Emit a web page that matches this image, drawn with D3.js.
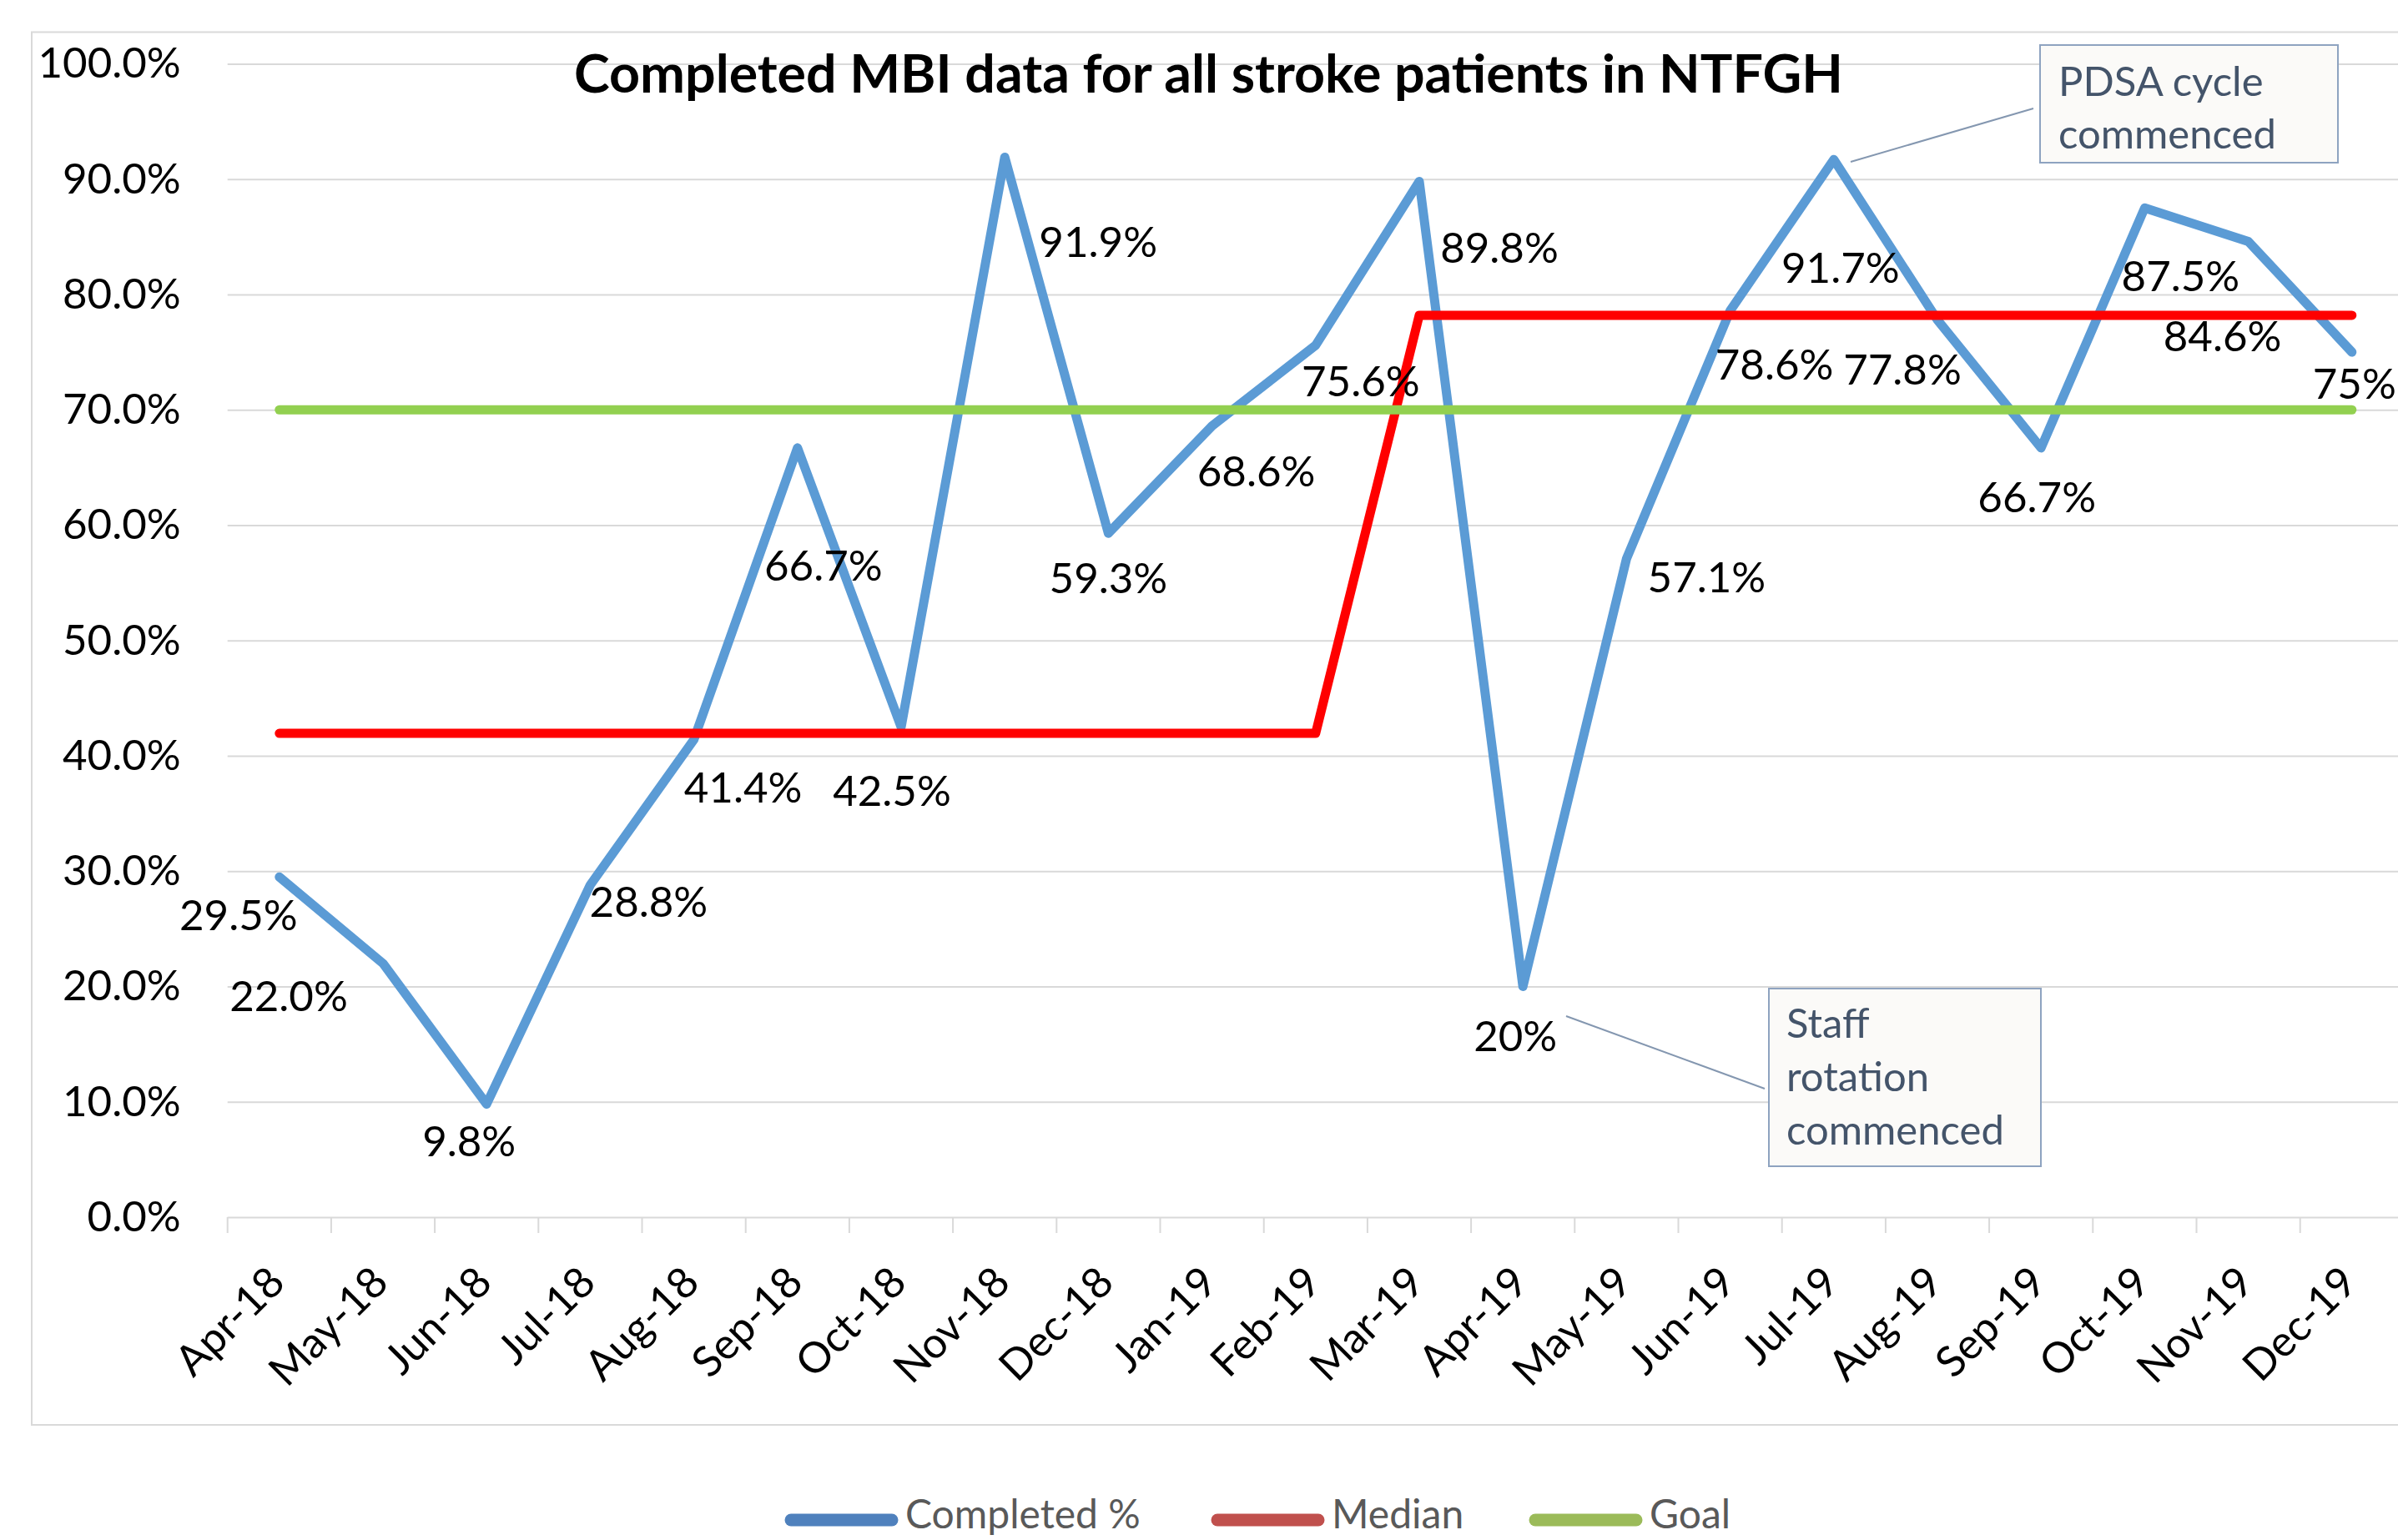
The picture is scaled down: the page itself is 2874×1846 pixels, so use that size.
<!DOCTYPE html>
<html>
<head>
<meta charset="utf-8">
<script src="https://cdn.jsdelivr.net/npm/d3@7"></script>
<style>
  html, body { margin: 0; padding: 0; background: #ffffff; }
  svg { display: block; }
</style>
</head>
<body>
<script>
// ---------------- data ----------------
const categories = ["Apr-18","May-18","Jun-18","Jul-18","Aug-18","Sep-18","Oct-18","Nov-18","Dec-18","Jan-19","Feb-19",
                    "Mar-19","Apr-19","May-19","Jun-19","Jul-19","Aug-19","Sep-19","Oct-19","Nov-19","Dec-19"];
const completed = [29.5, 22.0, 9.8, 28.8, 41.4, 66.7, 42.5, 91.9, 59.3, 68.6, 75.6,
                   89.8, 20, 57.1, 78.6, 91.7, 77.8, 66.7, 87.5, 84.6, 75];
const completedLabels = ["29.5%","22.0%","9.8%","28.8%","41.4%","66.7%","42.5%","91.9%","59.3%","68.6%","75.6%",
                         "89.8%","20%","57.1%","78.6%","91.7%","77.8%","66.7%","87.5%","84.6%","75%"];
const median = [41.95, 41.95, 41.95, 41.95, 41.95, 41.95, 41.95, 41.95, 41.95, 41.95, 41.95,
                78.2, 78.2, 78.2, 78.2, 78.2, 78.2, 78.2, 78.2, 78.2, 78.2];
const goal = [70, 70, 70, 70, 70, 70, 70, 70, 70, 70, 70, 70, 70, 70, 70, 70, 70, 70, 70, 70, 70];
const yTicks = [0, 10, 20, 30, 40, 50, 60, 70, 80, 90, 100];
const seriesNames = ["Completed %", "Median", "Goal"];
const titleText = "Completed MBI data for all stroke patients in NTFGH";
const annotations = [
  { lines: ["PDSA cycle", "commenced"], anchor: 15 },
  { lines: ["Staff", "rotation", "commenced"], anchor: 12 }
];

// label placement (pixel offsets of each data label from its point)
const labelOffsets = [[-49,45],[-113,39],[-21,44],[70,20],[59,57],[31,141],[-11,76],[112,101],[0,53],[53,54],[54,43],
                      [96,79],[-9,59],[96,22],[53,64],[8,129],[-42,59],[-5,59],[43,81],[-31,113],[3,38]];

// ---------------- layout ----------------
const W = 2874, H = 1846;
const FONT = "Lato, 'Open Sans', sans-serif";
const plotLeft = 272.7, band = 124.2;
const plotRight = plotLeft + band * categories.length;
const yBottom = 1459, yTop = 76.5;

const svg = d3.select("body").append("svg").attr("width", W).attr("height", H);

// chart border
svg.append("rect").attr("x", 38).attr("y", 38.5).attr("width", 3000).attr("height", 1708 - 38.5)
  .attr("fill", "#ffffff").attr("stroke", "#D9D9D9").attr("stroke-width", 2);

const x = d3.scaleBand().domain(categories).range([plotLeft, plotRight]).paddingInner(0).paddingOuter(0);
const y = d3.scaleLinear().domain([0, 100]).range([yBottom, yTop]);
const cx = c => x(c) + x.bandwidth() / 2;

// y axis with gridlines
const yAxis = svg.append("g").attr("transform", `translate(${plotLeft},0)`)
  .call(d3.axisLeft(y).tickValues(yTicks).tickFormat(d => d3.format(".1f")(d) + "%")
        .tickSize(-(plotRight - plotLeft)).tickPadding(56));
yAxis.select(".domain").remove();
yAxis.selectAll("line").attr("stroke", "#D9D9D9").attr("stroke-width", 2);
yAxis.selectAll("text").attr("font-family", FONT).attr("font-size", 51).attr("fill", "#000000");

// x axis ticks at band boundaries
const xTickPos = categories.map(c => x(c)).concat([plotRight]);
svg.append("g").selectAll("line").data(xTickPos).join("line")
  .attr("x1", d => d).attr("x2", d => d).attr("y1", yBottom).attr("y2", yBottom + 19)
  .attr("stroke", "#D9D9D9").attr("stroke-width", 2);

// x axis labels
const xAxis = svg.append("g").attr("transform", `translate(0,${yBottom})`)
  .call(d3.axisBottom(x).tickSize(0).tickPadding(0));
xAxis.select(".domain").remove();
xAxis.selectAll(".tick text")
  .attr("font-family", FONT).attr("font-size", 51).attr("fill", "#000000")
  .attr("text-anchor", "end").attr("dy", 0).attr("y", 0)
  .attr("transform", "translate(9,81) rotate(-45)");

// title
svg.append("text").attr("x", 1448.5).attr("y", 110.5).attr("text-anchor", "middle")
  .attr("font-family", FONT).attr("font-weight", "bold").attr("font-size", 64)
  .attr("textLength", 1521).attr("lengthAdjust", "spacingAndGlyphs")
  .attr("fill", "#000000").text(titleText);

// lines
const line = d3.line().x((d, i) => cx(categories[i])).y(d => y(d));
const drawSeries = (vals, color) => svg.append("path").datum(vals)
  .attr("d", line).attr("fill", "none").attr("stroke", color).attr("stroke-width", 11)
  .attr("stroke-linejoin", "round").attr("stroke-linecap", "round");
drawSeries(completed, "#5B9BD5");
drawSeries(median, "#FF0000");
drawSeries(goal, "#92D050");

// data labels
svg.append("g").selectAll("text").data(completed).join("text")
  .attr("x", (d, i) => cx(categories[i]) + labelOffsets[i][0])
  .attr("y", (d, i) => y(d) + labelOffsets[i][1])
  .attr("dy", "0.36em").attr("text-anchor", "middle")
  .attr("font-family", FONT).attr("font-size", 51).attr("fill", "#000000")
  .text((d, i) => completedLabels[i]);

// annotations (callouts)
const calloutBoxes = [
  { x0: 2445, y0: 54, x1: 2802, y1: 195, tx: 2467, ty: 115, lh: 63, from: [2218, 194], to: [2437, 130] },
  { x0: 2120, y0: 1185, x1: 2446, y1: 1398, tx: 2141, ty: 1244, lh: 64, from: [1877, 1218], to: [2115, 1305] }
];
annotations.forEach((a, k) => {
  const b = calloutBoxes[k];
  svg.append("line").attr("x1", b.from[0]).attr("y1", b.from[1]).attr("x2", b.to[0]).attr("y2", b.to[1])
    .attr("stroke", "#8497B0").attr("stroke-width", 2);
  svg.append("rect").attr("x", b.x0).attr("y", b.y0).attr("width", b.x1 - b.x0).attr("height", b.y1 - b.y0)
    .attr("fill", "#FBFAF8").attr("stroke", "#8EA3C0").attr("stroke-width", 2);
  a.lines.forEach((t, j) => {
    svg.append("text").attr("x", b.tx).attr("y", b.ty + j * b.lh)
      .attr("font-family", FONT).attr("font-size", 49).attr("fill", "#44546A").text(t);
  });
});

// legend
const legendColors = ["#4F81BD", "#C0504D", "#9BBB59"];
const legendX = [941, 1452, 1833];
const legend = svg.append("g");
seriesNames.forEach((n, i) => {
  legend.append("line").attr("x1", legendX[i] + 7).attr("x2", legendX[i] + 128)
    .attr("y1", 1822).attr("y2", 1822).attr("stroke", legendColors[i])
    .attr("stroke-width", 15).attr("stroke-linecap", "round");
  legend.append("text").attr("x", legendX[i] + 144).attr("y", 1832)
    .attr("font-family", FONT).attr("font-size", 48).attr("fill", "#595959").text(n);
});
</script>
</body>
</html>
